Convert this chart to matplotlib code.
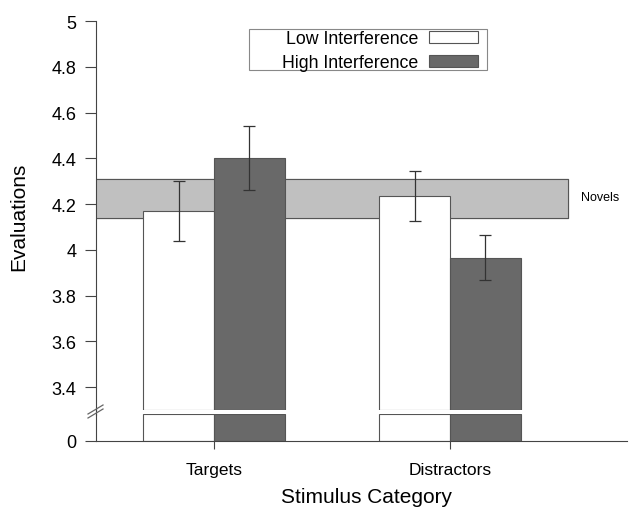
import numpy as np
import matplotlib.pyplot as plt
from matplotlib.patches import Patch, Rectangle
from matplotlib.lines import Line2D

plt.rcParams['font.family'] = ['Liberation Sans', 'DejaVu Sans']

categories = ['Targets', 'Distractors']
low_means = [4.17, 4.235]
low_err = [0.13, 0.11]
high_means = [4.40, 3.965]
high_err = [0.14, 0.098]
novels_lo, novels_hi = 4.141, 4.309
yticks = [3.4, 3.6, 3.8, 4, 4.2, 4.4, 4.6, 4.8, 5]
ytick_labels = ['3.4', '3.6', '3.8', '4', '4.2', '4.4', '4.6', '4.8', '5']

W, H = 630, 510
fig = plt.figure(figsize=(W / 100, H / 100), dpi=100)

def box(x0, y0, x1, y1):
    # pixel box (top-left origin) -> figure fraction
    return [x0 / W, 1 - y1 / H, (x1 - x0) / W, (y1 - y0) / H]

ax = fig.add_axes(box(96, 22, 627, 411))
axb = fig.add_axes(box(96, 415, 627, 442))

dark = '#696969'
edge = '#555555'
axis_c = '#444444'
x = np.arange(len(categories))
w = 0.3
ybot = 3.3

# novels band
ax.fill_between([-0.5, 1.5], novels_lo, novels_hi, color='#c0c0c0', zorder=1)
ax.plot([-0.5, 1.5, 1.5, -0.5], [novels_hi, novels_hi, novels_lo, novels_lo],
        color=edge, lw=0.8, zorder=1)
ax.text(1.556, (novels_lo + novels_hi) / 2 + 0.004, 'Novels', fontsize=9, va='center', ha='left')

ax.bar(x - w / 2, np.array(low_means) - ybot, w, bottom=ybot, color='white',
       edgecolor=edge, lw=0.8, zorder=2)
ax.bar(x + w / 2, np.array(high_means) - ybot, w, bottom=ybot, color=dark,
       edgecolor=edge, lw=0.8, zorder=2)
ax.errorbar(x - w / 2, low_means, yerr=low_err, fmt='none', ecolor='#333333',
            elinewidth=0.9, capsize=4, capthick=0.9, zorder=3)
ax.errorbar(x + w / 2, high_means, yerr=high_err, fmt='none', ecolor='#333333',
            elinewidth=0.9, capsize=4, capthick=0.9, zorder=3)

ax.set_xlim(-0.5, 1.75)
ax.set_ylim(ybot, 5)
ax.set_yticks(yticks)
ax.set_yticklabels(ytick_labels)
ax.set_xticks([])
for s in ['top', 'right', 'bottom']:
    ax.spines[s].set_visible(False)
ax.spines['left'].set_color(axis_c)
ax.tick_params(axis='y', direction='out', length=8, color=axis_c, labelsize=13, pad=6)
ax.set_ylabel('Evaluations', fontsize=15)
ax.yaxis.set_label_coords(-0.128, 0.5)

# lower part of broken axis
btop = 0.3
axb.bar(x - w / 2, btop, w, color='white', edgecolor=edge, lw=0.8)
axb.bar(x + w / 2, btop, w, color=dark, edgecolor=edge, lw=0.8)
axb.set_xlim(-0.5, 1.75)
axb.set_ylim(0, btop)
axb.set_yticks([0])
axb.set_xticks(x)
axb.set_xticklabels(categories, fontsize=12.5)
for s in ['top', 'right']:
    axb.spines[s].set_visible(False)
axb.spines['left'].set_color(axis_c)
axb.spines['bottom'].set_color(axis_c)
axb.tick_params(axis='y', direction='out', length=8, color=axis_c, labelsize=13, pad=6)
axb.tick_params(axis='x', direction='out', length=6, color=axis_c, pad=9)
axb.set_xlabel('Stimulus Category', fontsize=15, labelpad=7, x=0.51)

# connect spine across the gap and draw break marks
def px(xp, yp):
    return xp / W, 1 - yp / H
fig.add_artist(Line2D(*zip(px(96, 410), px(96, 416)), color=axis_c, lw=0.8))
for off in (0, 4):
    (x0, y0), (x1, y1) = px(88, 419 - off), px(103, 410 - off)
    fig.add_artist(Line2D([x0, x1], [y0, y1], color='#666666', lw=0.9))

# legend: frame drawn separately so it can be wider than its contents
ax.add_patch(Rectangle((0.288, 0.874), 0.448, 0.105, transform=ax.transAxes,
                       facecolor='white', edgecolor='#888888', lw=0.8, zorder=4))
handles = [Patch(facecolor='white', edgecolor=edge, lw=0.8),
           Patch(facecolor=dark, edgecolor=edge, lw=0.8)]
leg = ax.legend(handles, ['Low Interference', 'High Interference'], loc='upper right',
                bbox_to_anchor=((484 - 96) / 531, (411 - 25) / 389),
                markerfirst=False, fontsize=12.75, frameon=False,
                handlelength=2.75, handleheight=0.6,
                borderpad=0.35, labelspacing=0.4, handletextpad=0.62, borderaxespad=0)
leg.set_zorder(5)

fig.savefig('out.png', dpi=100)
